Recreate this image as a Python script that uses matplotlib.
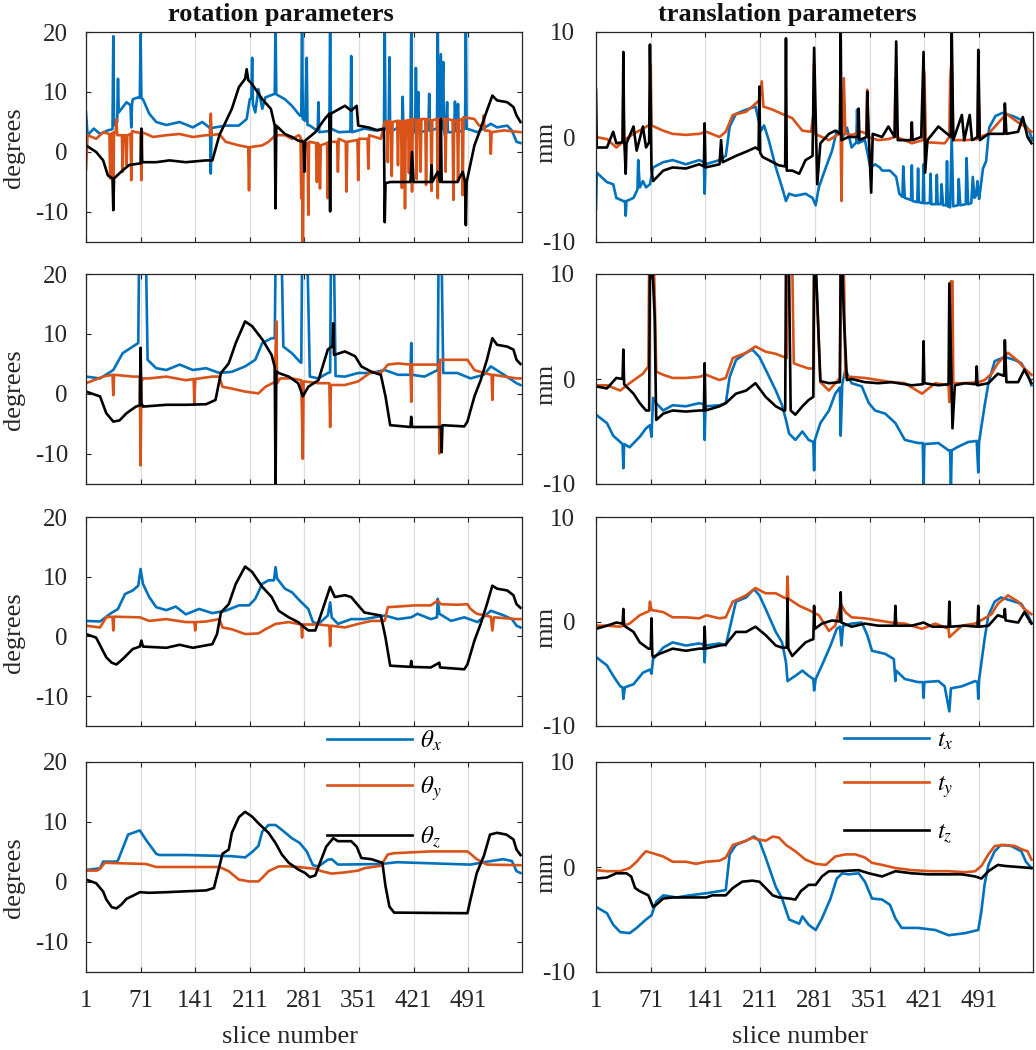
import matplotlib
matplotlib.use('Agg')
import matplotlib.pyplot as plt

plt.rcParams['font.family'] = ['Liberation Serif', 'DejaVu Serif']
plt.rcParams['mathtext.fontset'] = 'stix'
plt.rcParams['axes.unicode_minus'] = False

# ---------------- data: (slice, value) pairs ----------------
slice_ticks = [1, 71, 141, 211, 281, 351, 421, 491]
rot_ticks = [-10, 0, 10, 20]
trans_ticks = [-10, 0, 10]
rot_labels = ['$\\theta_x$', '$\\theta_y$', '$\\theta_z$']
trans_labels = ['$t_x$', '$t_y$', '$t_z$']

# rotation, row 1
r1_x = [(1, 6.6), (3, 2.8), (11, 3.9), (19, 3.0), (29, 3.6), (35, 3.8), (36, 19.3), (37, 4.5), (41, 5.0), (42, 12.2), (43, 6.6), (53, 8.3), (58, 7.8), (59, 4.1), (60, 8.0), (61, 8.8), (68, 9.1), (70, 9.0), (71, 19.6), (72, 9.0), (74, 8.8), (82, 6.4), (91, 5.0), (104, 4.5), (121, 5.0), (138, 4.1), (150, 5.0), (159, 4.1), (160, 4.0), (161, -3.6), (162, 4.0), (180, 4.4), (197, 4.4), (207, 5.5), (211, 8.8), (213, 9.0), (214, 15.7), (215, 8.0), (218, 6.6), (222, 10.5), (227, 7.2), (231, 9.1), (243, 9.7), (244, 22), (245, 9.6), (256, 8.8), (265, 7.7), (275, 6.1), (277, 6.0), (278, 22), (279, 5.5), (282, 5.2), (284, 15.7), (285, 4.5), (288, 4.4), (298, 3.5), (299, 8.3), (300, 3.3), (313, 3.5), (314, 22), (315, 3.9), (325, 3.3), (340, 3.4), (341, 16.0), (342, 3.3), (358, 3.9), (371, 3.6), (383, 3.9), (384, 22), (385, 3.9), (389, 3.5), (390, 15.8), (391, 3.3), (401, 4.1), (406, 3.7), (407, 9.2), (408, 3.6), (417, 3.3), (418, 22), (419, 3.3), (423, 3.3), (424, 14.0), (425, 3.5), (427, 10.0), (428, 3.3), (440, 3.6), (441, 9.7), (442, 3.6), (451, 3.9), (452, 22), (453, 4.0), (456, 16.3), (457, 3.9), (459, 15.0), (460, 3.5), (462, 2.2), (464, 8.3), (465, 3.3), (473, 3.3), (474, 8.4), (476, 3.5), (478, 8.0), (479, 3.3), (487, 3.9), (488, 22), (489, 3.9), (503, 3.3), (520, 4.7), (528, 4.1), (541, 4.4), (547, 3.6), (553, 1.7), (558, 1.5)]
r1_y = [(1, -3.0), (3, 2.8), (14, 2.2), (23, 3.3), (31, 3.0), (32, -4.4), (33, 3.0), (35, 3.2), (36, -5.5), (37, 3.3), (39, 3.2), (40, 5.5), (41, 2.8), (47, 2.8), (48, -3.3), (49, 2.8), (52, 2.8), (53, -2.2), (54, 2.8), (58, 3.0), (59, -4.7), (60, 3.5), (65, 3.3), (71, 3.2), (72, -4.7), (73, 3.3), (87, 2.5), (104, 2.8), (121, 3.0), (138, 2.5), (155, 2.8), (160, 2.8), (161, 6.4), (162, 2.8), (172, 3.0), (180, 1.7), (197, 1.1), (209, 0.8), (210, -6.4), (211, 0.8), (227, 1.1), (235, 1.7), (244, 2.8), (256, 2.8), (265, 2.2), (274, 2.8), (276, 2.5), (277, -7.7), (278, 2.0), (279, -16), (280, 1.0), (285, 1.5), (286, -10.5), (287, 1.7), (296, 1.5), (297, -5.0), (298, 1.5), (300, 1.2), (301, -6.1), (302, 1.1), (310, 1.5), (311, -7.7), (312, 1.7), (323, 1.7), (324, -3.3), (325, 2.2), (334, 1.7), (335, -6.6), (336, 1.7), (349, 2.0), (350, -4.7), (351, 2.2), (362, 2.2), (363, -2.8), (364, 2.8), (379, 2.2), (384, 5.0), (387, 5.0), (388, -1.7), (389, 5.2), (392, 5.0), (393, -4.0), (394, 5.0), (400, 5.2), (401, -2.2), (402, 5.2), (405, 5.0), (406, -6.0), (407, 5.2), (409, 5.2), (410, -9.4), (411, 5.2), (414, 5.3), (415, -3.5), (416, 5.3), (418, 5.5), (419, -6.6), (420, 5.5), (424, 5.3), (425, -4.5), (426, 5.3), (429, 5.5), (430, -3.3), (431, 5.5), (436, 5.5), (437, -5.5), (438, 5.5), (443, 5.3), (444, -6.5), (445, 5.3), (451, 5.5), (452, -7.7), (453, 5.5), (461, 5.5), (462, -3.3), (463, 5.5), (471, 5.3), (472, -8.0), (473, 5.2), (477, 5.3), (478, -5.0), (479, 5.3), (483, 5.5), (484, -7.2), (485, 5.8), (499, 5.5), (505, 4.4), (510, 4.5), (511, 6.1), (512, 3.6), (519, 3.5), (520, -0.3), (521, 3.3), (537, 3.6), (558, 3.3)]
r1_z = [(1, 1.1), (14, 0.0), (23, -1.4), (29, -3.9), (35, -4.4), (36, -9.7), (37, -4.4), (46, -3.3), (56, -2.2), (65, -2.0), (71, -1.9), (72, 3.9), (73, -1.7), (91, -1.7), (108, -1.4), (129, -1.7), (155, -1.4), (163, -1.4), (172, 2.8), (180, 5.0), (188, 7.2), (197, 10.8), (205, 12.2), (207, 13.8), (209, 12.0), (214, 11.3), (227, 8.8), (238, 7.2), (243, 4.4), (244, -9.4), (245, 4.4), (256, 3.0), (265, 2.5), (273, 1.9), (280, 1.7), (281, -3.3), (282, 1.9), (295, 3.3), (307, 5.5), (313, 6.4), (314, -9.9), (315, 6.4), (333, 7.7), (341, 6.9), (348, 7.7), (350, 4.4), (363, 4.1), (375, 3.6), (383, 3.9), (384, -11.7), (385, -5.2), (391, -5.0), (410, -5.0), (417, -5.0), (419, 0.0), (421, -5.0), (443, -5.0), (444, -2.2), (445, -5.0), (452, -3.3), (455, -5.0), (456, 5.5), (457, -5.0), (477, -5.0), (484, -3.3), (487, -5.0), (488, -12.2), (489, -5.0), (490, -4.4), (499, 1.1), (507, 3.9), (515, 6.9), (522, 9.4), (528, 8.6), (541, 8.3), (549, 7.5), (553, 6.1), (558, 5.0)]

# rotation, row 2
r2_x = [(1, 2.9), (19, 2.6), (36, 4.0), (48, 6.8), (61, 7.9), (68, 8.5), (69, 22), (78, 22), (80, 5.7), (91, 4.3), (104, 4.0), (121, 4.9), (138, 4.0), (155, 4.3), (172, 3.5), (188, 3.7), (205, 4.6), (218, 5.7), (227, 8.5), (239, 9.3), (243, 9.3), (244, 22), (252, 22), (254, 7.9), (265, 6.8), (275, 5.4), (277, 5.2), (278, 22), (285, 22), (288, 2.9), (299, 2.6), (311, 3.5), (314, 3.6), (315, 22), (319, 22), (321, 3.0), (333, 2.9), (350, 3.5), (367, 3.5), (384, 4.0), (401, 3.2), (417, 3.2), (418, 8.5), (419, 3.2), (435, 2.9), (452, 4.0), (453, 22), (457, 22), (459, 3.5), (477, 3.5), (494, 2.6), (511, 3.2), (520, 4.6), (537, 3.2), (553, 1.8), (558, 1.5)]
r2_y = [(1, 1.8), (23, 2.9), (35, 3.2), (36, -0.2), (37, 3.2), (61, 2.9), (70, 2.9), (71, -11.9), (72, 2.0), (74, 2.6), (82, 2.6), (104, 2.9), (129, 2.3), (139, 2.5), (140, -1.8), (141, 2.5), (163, 2.9), (172, 2.9), (176, 1.2), (188, 0.9), (205, 0.4), (222, 0.1), (231, 1.2), (243, 2.0), (245, 12.1), (246, 1.8), (250, 2.6), (265, 2.6), (277, 2.3), (279, -10.8), (280, 2.1), (299, 1.8), (313, 1.8), (314, -5.5), (315, 1.5), (333, 1.5), (350, 2.1), (367, 3.7), (379, 3.5), (388, 4.9), (401, 5.1), (417, 4.9), (418, -1.3), (419, 4.9), (443, 4.9), (453, 4.9), (454, -9.9), (455, 5.7), (477, 5.7), (490, 5.7), (499, 4.0), (511, 3.5), (521, 3.2), (522, -1.0), (523, 3.2), (553, 2.6), (558, 2.6)]
r2_z = [(1, 0.4), (19, -0.4), (27, -3.2), (36, -4.6), (44, -4.4), (53, -3.2), (65, -2.1), (70, -1.9), (71, 7.7), (72, -1.5), (74, -2.1), (104, -1.8), (129, -1.8), (155, -1.7), (167, -1.0), (174, 3.5), (184, 5.1), (193, 8.5), (205, 12.1), (214, 11.3), (227, 9.1), (239, 6.5), (243, 4.5), (244, -16), (245, 3.8), (248, 3.5), (261, 2.9), (273, 1.8), (279, -0.4), (286, 1.2), (299, 2.3), (311, 7.4), (317, 8.0), (318, 11.8), (319, 6.5), (333, 7.1), (346, 6.3), (354, 4.6), (367, 3.7), (379, 3.2), (385, -0.4), (391, -5.2), (417, -5.5), (418, -3.8), (419, -5.5), (443, -5.5), (456, -5.5), (457, -9.7), (458, -5.2), (486, -5.4), (490, -4.6), (499, -0.4), (507, 2.3), (515, 5.7), (522, 9.3), (528, 8.2), (541, 7.9), (549, 7.4), (553, 5.7), (558, 5.0)]

# rotation, row 3
r3_x = [(1, 2.6), (19, 2.5), (32, 3.8), (42, 4.6), (51, 7.1), (61, 7.7), (68, 8.5), (71, 11.3), (74, 8.8), (82, 6.6), (91, 4.9), (104, 4.4), (116, 5.0), (129, 3.7), (146, 4.6), (163, 3.9), (180, 4.3), (197, 5.2), (210, 5.2), (218, 6.3), (227, 8.8), (235, 9.4), (242, 9.4), (244, 11.6), (246, 9.7), (256, 8.0), (265, 7.4), (275, 6.0), (286, 4.6), (292, 2.4), (299, 2.1), (311, 3.5), (314, 5.7), (316, 3.2), (324, 2.1), (341, 2.9), (358, 2.9), (384, 3.5), (401, 2.9), (418, 3.2), (426, 3.8), (443, 2.9), (451, 3.2), (452, 6.3), (454, 3.8), (469, 2.6), (486, 3.2), (503, 2.4), (520, 4.3), (537, 3.5), (547, 2.9), (553, 1.8), (558, 1.5)]
r3_y = [(1, 1.8), (19, 1.5), (27, 3.2), (35, 3.3), (36, 1.0), (37, 3.3), (70, 3.2), (82, 2.6), (104, 2.9), (129, 2.4), (140, 2.4), (141, 1.0), (142, 2.4), (155, 2.5), (172, 2.9), (176, 1.5), (188, 1.2), (205, 0.4), (222, 0.5), (231, 1.2), (244, 2.1), (261, 2.4), (273, 2.1), (277, 2.0), (278, -0.2), (279, 2.0), (299, 2.0), (313, 1.8), (314, -1.6), (315, 1.8), (333, 1.5), (350, 2.1), (367, 2.6), (384, 2.6), (388, 4.9), (401, 5.0), (422, 5.2), (443, 5.2), (452, 6.0), (456, 5.4), (477, 5.3), (490, 5.4), (494, 4.6), (502, 3.8), (520, 3.3), (522, 1.0), (524, 3.2), (553, 2.9), (558, 2.9)]
r3_z = [(1, 0.4), (14, -0.2), (27, -3.5), (34, -4.4), (40, -4.7), (48, -3.8), (61, -2.1), (70, -1.7), (72, -0.7), (74, -1.7), (104, -1.9), (121, -1.4), (138, -1.9), (163, -1.3), (169, 0.4), (174, 4.0), (184, 5.4), (193, 8.8), (205, 11.7), (214, 10.8), (227, 8.3), (239, 6.6), (248, 4.3), (261, 3.2), (273, 2.4), (286, 1.0), (295, 1.0), (301, 3.2), (311, 7.1), (314, 8.3), (320, 6.6), (333, 6.9), (341, 6.6), (350, 5.2), (358, 4.0), (379, 3.5), (385, -0.2), (391, -4.9), (417, -5.1), (418, -4.1), (419, -5.1), (443, -5.2), (454, -4.4), (455, -5.2), (486, -5.5), (490, -4.7), (499, -0.7), (507, 2.1), (515, 5.4), (522, 8.5), (528, 8.0), (541, 7.7), (549, 6.9), (553, 5.4), (558, 4.8)]

# rotation, row 4
r4_x = [(1, 2.0), (14, 2.2), (19, 2.3), (23, 3.4), (40, 3.4), (42, 3.6), (55, 7.9), (70, 8.6), (78, 7.0), (91, 4.7), (95, 4.5), (129, 4.5), (188, 4.3), (205, 4.1), (214, 5.0), (222, 6.0), (227, 8.4), (235, 9.5), (244, 9.5), (252, 8.7), (265, 7.3), (275, 6.5), (284, 5.1), (292, 2.8), (299, 2.6), (311, 3.7), (316, 3.8), (324, 2.9), (379, 3.0), (400, 3.3), (494, 2.9), (511, 3.3), (536, 3.8), (547, 3.5), (553, 1.8), (558, 1.5)]
r4_y = [(1, 1.9), (15, 1.9), (19, 2.2), (25, 3.2), (78, 3.0), (91, 2.5), (172, 2.5), (184, 1.8), (197, 0.4), (210, 0.1), (222, 0.1), (227, 0.7), (235, 1.8), (248, 2.6), (261, 2.6), (273, 2.5), (295, 2.2), (303, 1.8), (316, 1.4), (333, 1.6), (350, 1.9), (358, 2.3), (379, 2.7), (388, 4.6), (396, 4.8), (443, 5.1), (490, 5.1), (494, 4.7), (502, 3.8), (515, 2.9), (558, 2.8)]
r4_z = [(1, 0.4), (14, -0.2), (23, -1.6), (27, -2.9), (34, -4.2), (40, -4.4), (46, -3.8), (53, -2.8), (61, -2.3), (70, -1.7), (82, -1.8), (104, -1.7), (155, -1.4), (165, -1.0), (172, 2.6), (176, 4.7), (184, 5.4), (188, 8.2), (197, 10.8), (205, 11.7), (214, 10.9), (222, 9.8), (235, 8.2), (244, 6.5), (252, 4.6), (261, 3.2), (273, 2.1), (282, 1.5), (288, 0.8), (295, 1.1), (301, 3.2), (309, 5.9), (318, 7.3), (324, 6.8), (341, 6.8), (348, 5.9), (354, 4.0), (367, 3.8), (381, 3.2), (385, -0.7), (390, -4.1), (396, -5.1), (490, -5.2), (494, -2.9), (502, 1.5), (511, 4.3), (519, 7.9), (528, 8.2), (540, 7.9), (549, 7.1), (553, 5.4), (558, 4.5)]

# translation, row 1
t1_x = [(1, -6.9), (2, -3.4), (15, -4.3), (23, -4.5), (27, -5.8), (36, -6.1), (38, -6.1), (39, -7.5), (40, -6.1), (49, -5.8), (54, -5.0), (55, -2.2), (57, -4.8), (61, -4.2), (65, -4.8), (70, -4.5), (74, -2.9), (87, -2.4), (99, -2.2), (116, -2.6), (133, -2.2), (139, -2.4), (140, -5.4), (141, -2.6), (159, -2.2), (167, -1.8), (172, 1.0), (180, 2.2), (193, 2.6), (205, 2.9), (212, 0.6), (216, 1.1), (222, -0.3), (231, -2.9), (239, -4.8), (244, -6.1), (248, -5.4), (256, -5.6), (269, -5.4), (278, -5.8), (282, -6.5), (286, -4.8), (295, -2.9), (303, -1.3), (309, 0.6), (313, 0.3), (314, 2.9), (315, -0.3), (322, 0.9), (328, -1.0), (334, -0.5), (335, 2.6), (336, -0.6), (345, -0.3), (352, -2.9), (358, -2.6), (364, -2.9), (367, -3.2), (377, -3.2), (385, -3.8), (389, -5.4), (393, -5.7), (394, -2.8), (396, -5.8), (404, -6.0), (405, -2.7), (406, -6.1), (412, -6.2), (413, -3.0), (414, -6.2), (419, -6.3), (420, -2.6), (421, -6.3), (428, -6.3), (429, -3.5), (430, -6.4), (436, -6.4), (437, -3.6), (438, -6.4), (442, -6.4), (443, -4.5), (445, -6.5), (449, -6.5), (450, -2.3), (451, -6.6), (454, -6.7), (456, 0.2), (458, -6.6), (464, -6.5), (465, -4.0), (467, -6.5), (474, -6.4), (475, -2.0), (477, -6.4), (481, -6.3), (483, -3.8), (485, -5.8), (487, -5.6), (489, -4.2), (491, -5.9), (493, -4.8), (496, -3.0), (500, -2.3), (504, 0.9), (512, 2.0), (521, 2.3), (534, 2.0), (546, 1.6), (555, 0.6), (559, -0.3)]
t1_y = [(1, 0.0), (15, -0.2), (27, -1.0), (35, -0.5), (36, 4.5), (37, -0.3), (49, 0.3), (61, 0.8), (68, 1.1), (70, 1.0), (71, 6.9), (72, 1.1), (87, 0.6), (99, 0.3), (116, 0.2), (133, 0.3), (142, 0.5), (159, 0.0), (167, 0.5), (176, 2.1), (193, 2.4), (210, 3.5), (213, 5.3), (215, 2.9), (227, 2.6), (239, 2.2), (252, 1.8), (265, 0.6), (276, 0.5), (279, 2.0), (280, 7.0), (281, 0.3), (299, -0.3), (312, 0.3), (314, 0.3), (315, -6.1), (316, 0.3), (318, 5.6), (320, 0.3), (328, 0.2), (341, 0.5), (347, 0.3), (348, 4.5), (349, 0.0), (362, -0.3), (375, -0.2), (383, 0.0), (384, 5.5), (386, 0.0), (405, -0.6), (419, -0.3), (421, 6.2), (423, -0.5), (447, -0.6), (453, 0.0), (454, 5.4), (456, 7.7), (458, -0.3), (473, -0.3), (489, -0.2), (490, 4.8), (492, 0.0), (503, 0.3), (515, 1.3), (526, 2.2), (537, 1.6), (549, 1.0), (558, 0.5)]
t1_z = [(1, 4.5), (2, -1.0), (15, -1.0), (23, 0.5), (27, -0.6), (35, -0.5), (36, 8.1), (37, 0.0), (39, -3.5), (40, -0.6), (49, 1.0), (53, -1.3), (61, 1.0), (65, -1.0), (69, -0.5), (70, 8.8), (72, -3.2), (74, -4.2), (87, -3.2), (99, -2.9), (116, -3.0), (133, -2.6), (139, -2.8), (140, 1.3), (141, -2.9), (159, -2.6), (161, -0.3), (163, -2.4), (180, -1.8), (193, -1.4), (205, -1.0), (209, -1.2), (210, 4.8), (211, -1.5), (214, -1.9), (222, -2.2), (235, -2.7), (243, -2.8), (244, 9.4), (245, -3.2), (252, -3.2), (261, -3.5), (269, -2.2), (278, -1.8), (280, 8.5), (284, -4.5), (288, -0.6), (299, 0.3), (307, 0.6), (313, 0.3), (314, 10.5), (315, -0.3), (324, 0.0), (336, 0.0), (337, 2.7), (338, -0.3), (347, 0.0), (348, 4.3), (350, 0.0), (353, -5.3), (355, 0.3), (367, 0.0), (375, 1.0), (383, 0.0), (385, 9.1), (387, -0.3), (404, -0.3), (405, 1.4), (406, -0.3), (417, 0.0), (420, 8.1), (422, -3.4), (425, -0.3), (439, 1.0), (455, 0.0), (456, 10.5), (458, -0.3), (469, 2.1), (472, -0.3), (479, 2.1), (482, -0.3), (489, 0.0), (490, 8.3), (492, -0.3), (503, 0.3), (515, 0.3), (523, 0.3), (524, 3.2), (526, 0.3), (541, 0.5), (547, 1.9), (553, 0.0), (558, -0.6)]

# translation, row 2
t2_x = [(1, -3.4), (15, -4.2), (23, -5.4), (32, -6.0), (35, -6.2), (36, -8.5), (37, -6.2), (44, -6.5), (57, -5.5), (65, -4.7), (70, -4.4), (72, -5.5), (74, -1.8), (78, -2.3), (87, -3.0), (99, -2.5), (116, -2.6), (133, -2.3), (139, -2.4), (140, -5.8), (141, -2.6), (159, -2.5), (167, -2.3), (172, 0.2), (180, 1.8), (193, 2.5), (201, 2.8), (210, 2.1), (218, 0.9), (231, -1.1), (239, -2.5), (244, -3.9), (248, -5.2), (256, -5.8), (265, -5.0), (273, -5.8), (279, -6.0), (280, -8.7), (281, -5.8), (288, -4.2), (299, -3.0), (307, -1.4), (313, -0.8), (314, -5.4), (316, -0.5), (320, 0.9), (328, -0.4), (341, -0.7), (350, -2.3), (358, -3.0), (371, -3.3), (384, -4.2), (396, -5.8), (413, -6.1), (419, -6.1), (420, -10.5), (421, -6.2), (439, -6.1), (452, -6.8), (454, -6.8), (455, -10.5), (456, -6.8), (463, -6.5), (477, -6.0), (488, -5.9), (490, -8.9), (491, -6.0), (498, -2.6), (503, -0.4), (511, 1.7), (524, 2.1), (537, 1.8), (545, 1.5), (553, 0.5), (558, -0.6)]
t2_y = [(1, -0.6), (15, -0.6), (32, -1.1), (44, -0.4), (61, 0.5), (68, 1.2), (69, 11), (75, 11), (77, 5.0), (78, 0.7), (87, 0.4), (99, 0.1), (116, 0.1), (133, 0.2), (142, 0.4), (159, -0.1), (167, 0.1), (176, 2.0), (193, 2.5), (205, 3.1), (218, 2.6), (231, 2.4), (241, 2.1), (245, 2.0), (246, 11), (252, 11), (254, 1.5), (261, 1.3), (273, 1.0), (279, 1.0), (280, 11), (282, 11), (284, 7.2), (288, -0.3), (299, -1.1), (313, 0.1), (314, 11), (318, 11), (320, 0.2), (328, 0.2), (345, 0.1), (362, -0.1), (379, -0.3), (396, -0.4), (418, -1.4), (435, -0.4), (452, -0.6), (453, -2.2), (455, 9.3), (457, 9.3), (458, -0.4), (473, -0.4), (490, -0.3), (498, -0.1), (507, 0.5), (515, 1.5), (528, 2.5), (541, 1.7), (549, 1.0), (558, 0.4)]
t2_z = [(1, -0.7), (15, -0.9), (27, 0.1), (35, 0.0), (36, 2.8), (37, -0.5), (49, -1.4), (57, -2.3), (65, -3.0), (69, -3.0), (70, 11), (73, 11), (76, 6.0), (78, -3.9), (87, -3.3), (99, -3.0), (116, -3.1), (133, -3.0), (139, -3.0), (140, 1.5), (141, -3.0), (159, -2.6), (167, -2.3), (180, -1.4), (193, -1.1), (205, -0.4), (218, -1.7), (231, -2.6), (241, -3.0), (243, -3.0), (244, 11), (248, 9.8), (250, -3.0), (256, -3.4), (265, -2.6), (273, -2.0), (279, -1.7), (280, 11), (282, 11), (284, 7.5), (288, -0.2), (299, -0.4), (313, -0.3), (314, 11), (316, 11), (318, 6.0), (322, -0.1), (328, 0.0), (345, -0.3), (362, -0.4), (379, -0.3), (405, -0.6), (419, -0.5), (420, 3.6), (421, -0.4), (439, -0.6), (452, -0.5), (453, 9.1), (457, -4.7), (460, -0.6), (473, -0.4), (487, -0.5), (488, 1.2), (489, -0.6), (503, -0.4), (515, 0.5), (523, 0.3), (524, 3.7), (526, -0.3), (541, -0.3), (549, 0.9), (558, -0.4)]

# translation, row 3
t3_x = [(1, -3.4), (15, -4.2), (23, -5.2), (32, -6.2), (35, -6.3), (36, -7.4), (38, -6.3), (49, -6.0), (61, -4.9), (70, -4.6), (72, -5.0), (74, -3.6), (87, -2.5), (99, -2.0), (116, -2.3), (133, -2.1), (139, -2.2), (140, -3.9), (141, -2.3), (159, -2.1), (167, -2.3), (172, -0.7), (180, 1.9), (193, 2.3), (203, 3.1), (210, 2.5), (218, 1.2), (231, -1.0), (239, -2.0), (244, -3.9), (246, -5.7), (256, -5.2), (265, -4.7), (273, -5.2), (279, -5.5), (280, -6.6), (282, -5.5), (290, -4.2), (301, -2.3), (309, -0.7), (313, -0.5), (315, -2.3), (317, -0.4), (328, -0.2), (341, -0.1), (348, -1.3), (354, -2.8), (371, -3.1), (382, -3.6), (384, -5.7), (385, -4.7), (396, -5.5), (413, -5.8), (419, -5.8), (420, -7.3), (421, -5.8), (439, -5.7), (447, -6.2), (453, -8.6), (455, -6.4), (469, -6.2), (486, -5.7), (489, -5.8), (490, -7.4), (491, -5.6), (498, -1.7), (503, 0.6), (511, 1.9), (519, 2.3), (532, 2.0), (545, 1.7), (553, 0.7), (558, -0.1)]
t3_y = [(1, -0.4), (15, -0.4), (32, -0.5), (44, -0.2), (57, 0.6), (69, 1.0), (70, 1.9), (72, 1.1), (87, 0.9), (99, 0.4), (116, 0.4), (133, 0.3), (142, 0.6), (159, 0.3), (167, 0.4), (176, 1.9), (193, 2.5), (205, 3.2), (218, 2.7), (231, 2.7), (241, 2.3), (245, 2.2), (246, 4.3), (247, 2.2), (261, 1.5), (273, 1.1), (286, 0.6), (299, -0.9), (307, -0.4), (314, 1.7), (320, 0.9), (328, 0.4), (345, 0.3), (362, 0.1), (379, -0.1), (396, -0.2), (418, -0.7), (435, -0.2), (452, -0.7), (453, -1.5), (469, -0.4), (486, -0.2), (498, 0.3), (507, 0.7), (515, 1.7), (528, 2.5), (541, 1.9), (549, 1.2), (558, 0.7)]
t3_z = [(1, -0.7), (15, -0.4), (27, -0.1), (35, -0.2), (36, 1.2), (37, -0.4), (49, -1.0), (57, -2.0), (68, -2.6), (71, -2.6), (72, 0.3), (73, -3.2), (74, -3.4), (82, -3.1), (99, -2.6), (116, -2.8), (133, -2.6), (139, -2.6), (140, -0.5), (141, -2.6), (159, -2.3), (167, -2.2), (180, -1.0), (193, -1.0), (205, -0.5), (218, -1.3), (231, -2.3), (239, -2.5), (245, -2.5), (246, 2.2), (247, -2.6), (252, -3.3), (261, -2.6), (269, -2.0), (278, -1.7), (279, -1.7), (280, 1.5), (281, -0.7), (290, -0.2), (303, 0.1), (313, 0.0), (314, 2.8), (315, -0.1), (328, -0.5), (345, -0.2), (362, -0.4), (383, -0.4), (384, 1.5), (385, -0.4), (405, -0.4), (420, -0.1), (431, -0.5), (452, -0.5), (453, 1.9), (454, -0.5), (473, -0.4), (489, -0.5), (490, 1.5), (491, -0.5), (503, -0.4), (515, 0.6), (523, 0.4), (524, 1.2), (525, 0.1), (541, -0.1), (549, 0.9), (558, -0.2)]

# translation, row 4
t4_x = [(1, -3.8), (15, -4.4), (23, -5.5), (32, -6.2), (44, -6.3), (53, -5.8), (65, -5.0), (72, -4.6), (78, -3.3), (87, -2.7), (104, -2.9), (121, -2.7), (142, -2.5), (159, -2.3), (167, -2.2), (172, 1.2), (180, 2.1), (193, 2.5), (203, 2.9), (210, 2.5), (218, 0.9), (231, -1.9), (239, -3.0), (248, -5.0), (261, -5.4), (265, -4.7), (273, -5.5), (282, -6.0), (290, -4.9), (301, -3.0), (309, -1.1), (316, -0.6), (324, -0.7), (337, -0.6), (345, -1.4), (354, -3.0), (367, -3.1), (377, -3.6), (384, -4.9), (392, -5.8), (413, -5.8), (435, -6.0), (452, -6.5), (473, -6.3), (490, -6.0), (494, -4.2), (498, -1.7), (503, 0.2), (511, 1.5), (519, 2.1), (532, 2.0), (545, 1.5), (551, 0.5), (558, -0.1)]
t4_y = [(1, -0.3), (15, -0.4), (32, -0.4), (44, -0.1), (53, 0.5), (61, 1.2), (65, 1.5), (74, 1.3), (87, 1.0), (99, 0.5), (116, 0.5), (129, 0.3), (142, 0.5), (159, 0.6), (167, 0.9), (176, 2.1), (193, 2.5), (201, 2.8), (210, 2.6), (218, 2.5), (227, 2.9), (235, 2.8), (244, 2.1), (256, 1.5), (269, 0.7), (282, 0.3), (295, 0.2), (307, 1.0), (320, 1.2), (333, 1.2), (345, 0.9), (354, 0.4), (367, 0.2), (384, -0.1), (405, -0.3), (430, -0.4), (452, -0.4), (473, -0.5), (486, -0.4), (494, 0.1), (503, 1.2), (511, 2.0), (524, 2.1), (537, 2.0), (545, 1.7), (553, 1.5), (558, 0.7)]
t4_z = [(1, -1.1), (15, -1.0), (27, -0.6), (40, -0.6), (46, -0.9), (51, -2.0), (57, -2.3), (68, -2.7), (74, -3.8), (78, -3.6), (87, -3.0), (99, -2.9), (142, -2.9), (150, -2.7), (167, -2.7), (176, -2.0), (188, -1.4), (201, -1.3), (210, -1.4), (218, -2.0), (227, -2.7), (235, -2.9), (248, -3.0), (256, -3.1), (263, -2.3), (273, -1.7), (282, -1.7), (290, -0.9), (299, -0.4), (312, -0.4), (337, -0.3), (350, -0.6), (367, -0.9), (384, -0.4), (405, -0.6), (426, -0.7), (469, -0.7), (486, -0.9), (494, -1.1), (503, -0.4), (515, 0.2), (524, 0.1), (558, -0.1)]

rot_rows = [(r1_x, r1_y, r1_z), (r2_x, r2_y, r2_z), (r3_x, r3_y, r3_z), (r4_x, r4_y, r4_z)]
trans_rows = [(t1_x, t1_y, t1_z), (t2_x, t2_y, t2_z), (t3_x, t3_y, t3_z), (t4_x, t4_y, t4_z)]

# ---------------- styling / layout ----------------
W, H = 1036, 1050
colors = ['#0072BD', '#D95319', '#000000']
axcol = '#262626'
FS = 18
LW = 1.9

fig = plt.figure(figsize=(W / 100, H / 100), dpi=100)

rows_px = [(32, 242), (274, 484), (517, 726), (762, 972)]
left_px = (86, 522)
right_px = (596, 1033)


def add_ax(xpx, ypx):
    return fig.add_axes([xpx[0] / W, 1 - ypx[1] / H,
                         (xpx[1] - xpx[0]) / W, (ypx[1] - ypx[0]) / H])


def style(ax, ylim, yticks, ypad, bottom):
    ax.set_xlim(1, 560)
    ax.set_ylim(*ylim)
    ax.set_xticks(slice_ticks)
    ax.set_yticks(yticks)
    ax.grid(axis='x', color='#dedede', lw=0.9)
    ax.set_axisbelow(True)
    ax.tick_params(direction='in', top=True, right=True, length=3.5, width=0.8,
                   colors=axcol, labelsize=FS)
    ax.tick_params(axis='y', pad=ypad)
    ax.tick_params(axis='x', pad=13)
    if not bottom:
        ax.tick_params(axis='x', labelbottom=False)
    for sp in ax.spines.values():
        sp.set_color(axcol)
        sp.set_linewidth(0.9)


leg_kw = dict(loc='upper left', frameon=False, fontsize=18, handlelength=3.4,
              handletextpad=0.3, labelspacing=0.85, borderpad=0, borderaxespad=0)

for i in range(4):
    bottom = (i == 3)
    # rotation
    ax = add_ax(left_px, rows_px[i])
    hl = []
    for ser, c in zip(rot_rows[i], colors):
        xs, ys = zip(*ser)
        hl.append(ax.plot(xs, ys, color=c, lw=LW)[0])
    style(ax, (-15, 20), rot_ticks, 13, bottom)
    ax.set_ylabel('degrees', fontsize=19, color=axcol)
    ax.yaxis.set_label_coords(-0.140, 0.448)
    if bottom:
        ax.set_xlabel('slice number', fontsize=19, color=axcol)
        ax.xaxis.set_label_coords((290 - 86) / 436, -0.255)
        ax.legend(hl, rot_labels, bbox_to_anchor=(0.553, 1.157), **leg_kw)
    # translation
    ax = add_ax(right_px, rows_px[i])
    hl = []
    for ser, c in zip(trans_rows[i], colors):
        xs, ys = zip(*ser)
        hl.append(ax.plot(xs, ys, color=c, lw=LW)[0])
    style(ax, (-10, 10), trans_ticks, 15, bottom)
    ax.set_ylabel('mm', fontsize=19, color=axcol)
    ax.yaxis.set_label_coords(-0.089, 0.474)
    if bottom:
        ax.set_xlabel('slice number', fontsize=19, color=axcol)
        ax.xaxis.set_label_coords((800 - 596) / 437, -0.255)
        ax.legend(hl, trans_labels, bbox_to_anchor=(0.568, 1.157), **leg_kw)

fig.text(281 / W, 1 - 14 / H, 'rotation parameters', ha='center', va='center',
         fontsize=19, fontweight='bold', color='#111111')
fig.text(787 / W, 1 - 14 / H, 'translation parameters', ha='center', va='center',
         fontsize=19, fontweight='bold', color='#111111')

fig.savefig('out.png', dpi=100)
